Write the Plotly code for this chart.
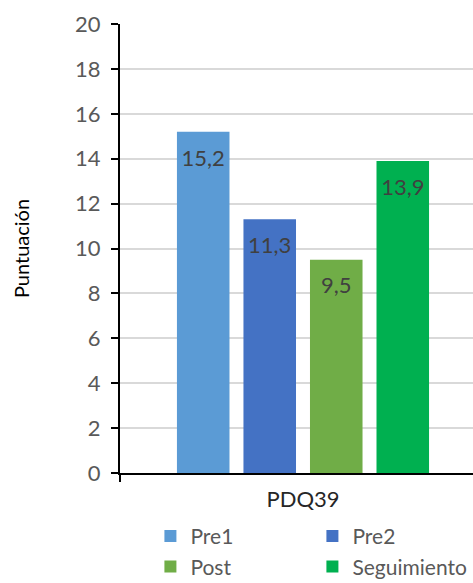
import plotly.graph_objects as go

# Chart data
category = ["PDQ39"]
series_names = ["Pre1", "Pre2", "Post", "Seguimiento"]
series_values = [15.2, 11.3, 9.5, 13.9]
series_colors = ["#5B9BD5", "#4472C4", "#70AD47", "#00B050"]
y_ticks = [0, 2, 4, 6, 8, 10, 12, 14, 16, 18, 20]

FONT = "Lato"
GREY = "#595959"

fig = go.Figure()

for name, val, col in zip(series_names, series_values, series_colors):
    fig.add_trace(go.Bar(
        x=category, y=[val], name=name,
        marker=dict(color=col, line=dict(width=0)),
        offsetgroup=name, alignmentgroup="g",
        hoverinfo="skip",
    ))

# value labels just inside the top of each bar
for name, val in zip(series_names, series_values):
    fig.add_trace(go.Scatter(
        x=category, y=[val], mode="markers+text",
        text=[f"{val:.1f}".replace(".", ",")],
        textposition="bottom center",
        textfont=dict(family=FONT, size=22, color="#404040"),
        marker=dict(size=26, color="rgba(0,0,0,0)"),
        offsetgroup=name, alignmentgroup="g",
        showlegend=False, hoverinfo="skip",
    ))

fig.update_layout(
    width=473, height=583,
    margin=dict(l=120, r=0, t=24, b=110, autoexpand=False),
    paper_bgcolor="white", plot_bgcolor="white",
    barmode="group", scattermode="group",
    bargap=0.273, bargroupgap=0.21,
    font=dict(family=FONT, size=22, color=GREY),
    legend=dict(
        orientation="h",
        xref="container", yref="container",
        x=0.318, xanchor="left", y=0.115, yanchor="top",
        entrywidth=117, entrywidthmode="pixels",
        font=dict(family=FONT, size=21, color=GREY),
        itemclick=False, itemdoubleclick=False,
    ),
    showlegend=True,
)

fig.update_xaxes(
    type="category", range=[-0.5, 0.4645],
    showline=True, linecolor="black", linewidth=2,
    ticks="outside", tickson="boundaries", ticklen=7, tickwidth=2, tickcolor="black",
    ticklabelstandoff=6,
    tickfont=dict(family=FONT, size=22, color="#262626"),
    showgrid=False, zeroline=False,
)

fig.update_yaxes(
    range=[0, 20], tickvals=y_ticks,
    showline=True, linecolor="black", linewidth=2,
    ticks="outside", ticklen=7, tickwidth=2, tickcolor="black",
    ticklabelstandoff=6,
    tickfont=dict(family=FONT, size=22, color=GREY),
    showgrid=True, gridcolor="#D9D9D9", gridwidth=1.5,
    zeroline=False,
    title=dict(text="Puntuación", font=dict(family=FONT, size=20, color="#000000"), standoff=40),
)

fig.write_html("out.html")
